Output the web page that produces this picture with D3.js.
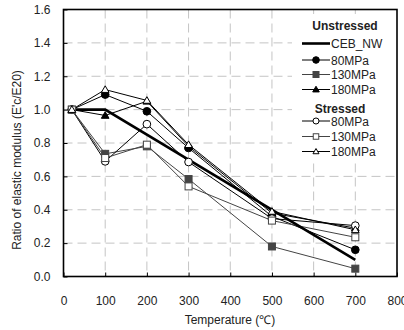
<!DOCTYPE html>
<html>
<head>
<meta charset="utf-8">
<script src="https://d3js.org/d3.v7.min.js"></script>
<style>
  body { margin: 0; background: #fff; }
  text { font-family: "Liberation Sans", Arial, sans-serif; fill: #222; }
</style>
</head>
<body>
<div id="chart"></div>
<script>
// temperatures (deg C) and ratios E'c/E20
const temps = [20, 100, 200, 300, 500, 700];
const cebTemps = [20, 100, 700];
const cebNW = [1.0, 1.0, 0.1];

const unstressed80 = [1.0, 1.09, 0.99, 0.77, 0.36, 0.16];
const unstressed130 = [1.0, 0.735, 0.78, 0.584, 0.18, 0.047];
const unstressed180 = [1.0, 0.965, 1.05, 0.78, 0.38, 0.29];
const stressed80 = [1.0, 0.69, 0.913, 0.686, 0.347, 0.305];
const stressed130 = [1.0, 0.71, 0.79, 0.54, 0.335, 0.235];
const stressed180 = [1.0, 1.12, 1.055, 0.79, 0.39, 0.28];

const xTicks = [0, 100, 200, 300, 400, 500, 600, 700, 800];
const yTicks = [0, 0.2, 0.4, 0.6, 0.8, 1.0, 1.2, 1.4, 1.6];

const series = [
  { name: "80MPa", vals: unstressed80, shape: "circle", fill: "#000", color: "#000" },
  { name: "130MPa", vals: unstressed130, shape: "square", fill: "#444", color: "#444" },
  { name: "180MPa", vals: unstressed180, shape: "triangle", fill: "#000", color: "#000" },
  { name: "80MPa", vals: stressed80, shape: "circle", fill: "#fff", color: "#000" },
  { name: "130MPa", vals: stressed130, shape: "square", fill: "#fff", color: "#444" },
  { name: "180MPa", vals: stressed180, shape: "triangle", fill: "#fff", color: "#000" }
];

const W = 404, H = 330;
const L = 63.5, T = 9.5, R = 397, B = 276.5;

const svg = d3.select("#chart").append("svg")
  .attr("width", W).attr("height", H);

const x = d3.scaleLinear().domain([0, 800]).range([L, R]);
const y = d3.scaleLinear().domain([0, 1.6]).range([B, T]);

// grid
svg.append("g").selectAll("line.gx")
  .data(xTicks.slice(1, -1)).enter().append("line")
  .attr("x1", d => x(d)).attr("x2", d => x(d))
  .attr("y1", T).attr("y2", B)
  .attr("stroke", "#c4c4c4").attr("stroke-dasharray", "9,5");
svg.append("g").selectAll("line.gy")
  .data(yTicks.slice(1, -1)).enter().append("line")
  .attr("x1", L).attr("x2", R)
  .attr("y1", d => y(d)).attr("y2", d => y(d))
  .attr("stroke", "#c4c4c4").attr("stroke-dasharray", "9,5");

// axes with inward ticks
const xAxis = svg.append("g").attr("transform", `translate(0,${B})`)
  .call(d3.axisBottom(x).tickValues(xTicks).tickSizeInner(-4).tickSizeOuter(0).tickPadding(20));
const yAxis = svg.append("g").attr("transform", `translate(${L},0)`)
  .call(d3.axisLeft(y).tickValues(yTicks).tickFormat(d3.format(".1f")).tickSizeInner(-4).tickSizeOuter(0).tickPadding(13));
[xAxis, yAxis].forEach(a => {
  a.select(".domain").remove();
  a.selectAll("line").attr("stroke", "#000");
  a.selectAll("text").attr("font-size", 12).attr("fill", "#222")
    .style("font-family", "'Liberation Sans', Arial, sans-serif");
});

// frame
svg.append("rect").attr("x", L).attr("y", T)
  .attr("width", R - L).attr("height", B - T)
  .attr("fill", "none").attr("stroke", "#000").attr("stroke-width", 1.6);

// legend background
const lg = svg.append("g");
lg.append("rect").attr("x", 292).attr("y", 14).attr("width", 103).attr("height", 146)
  .attr("fill", "#fff");

const line = d3.line().x(d => x(d[0])).y(d => y(d[1]));

function marker(g, shape, cx, cy, s, fill, color) {
  if (shape === "circle") {
    g.append("circle").attr("cx", cx).attr("cy", cy).attr("r", s * 0.55)
      .attr("fill", fill).attr("stroke", color).attr("stroke-width", 1);
  } else if (shape === "square") {
    g.append("rect").attr("x", cx - s / 2).attr("y", cy - s / 2)
      .attr("width", s).attr("height", s)
      .attr("fill", fill).attr("stroke", color).attr("stroke-width", 1);
  } else {
    const h = s * 0.9;
    g.append("path")
      .attr("d", `M${cx},${cy - h * 0.6}L${cx + s * 0.55},${cy + h * 0.45}L${cx - s * 0.55},${cy + h * 0.45}Z`)
      .attr("fill", fill).attr("stroke", color).attr("stroke-width", 1);
  }
}

// data lines
const plot = svg.append("g");
series.forEach(s => {
  plot.append("path").datum(temps.map((t, i) => [t, s.vals[i]]))
    .attr("d", line).attr("fill", "none")
    .attr("stroke", s.color).attr("stroke-width", 1);
});
plot.append("path").datum(cebTemps.map((t, i) => [t, cebNW[i]]))
  .attr("d", line).attr("fill", "none")
  .attr("stroke", "#000").attr("stroke-width", 2.6);
series.forEach(s => {
  temps.forEach((t, i) => marker(plot, s.shape, x(t), y(s.vals[i]), 7, s.fill, s.color));
});

// legend
const lx1 = 302, lx2 = 330, mx = 316;
lg.append("text").attr("x", 345).attr("y", 30).attr("text-anchor", "middle")
  .attr("font-size", 12).attr("font-weight", "bold").text("Unstressed");
lg.append("line").attr("x1", lx1).attr("x2", lx2).attr("y1", 43.5).attr("y2", 43.5)
  .attr("stroke", "#000").attr("stroke-width", 2.6);
lg.append("text").attr("x", 331).attr("y", 47.5).attr("font-size", 12).text("CEB_NW");
const rowsY = [60, 74.5, 89.5, 121, 136.5, 151.5];
series.forEach((s, i) => {
  const ry = rowsY[i];
  lg.append("line").attr("x1", lx1).attr("x2", lx2).attr("y1", ry).attr("y2", ry)
    .attr("stroke", s.color).attr("stroke-width", 1);
  marker(lg, s.shape, mx, ry, i < 3 ? 6 : 5.5, s.fill, s.color);
  lg.append("text").attr("x", 331).attr("y", ry + 4.5).attr("font-size", 12).text(s.name);
});
lg.append("text").attr("x", 340).attr("y", 113).attr("text-anchor", "middle")
  .attr("font-size", 12).attr("font-weight", "bold").text("Stressed");

// axis titles
svg.append("text").attr("x", 230).attr("y", 324).attr("text-anchor", "middle")
  .attr("font-size", 12).text("Temperature (\u2103)");
svg.append("text").attr("transform", "translate(21,160) rotate(-90)")
  .attr("text-anchor", "middle").attr("font-size", 12)
  .text("Ratio of  elastic modulus (E'c/E20)");
</script>
</body>
</html>
